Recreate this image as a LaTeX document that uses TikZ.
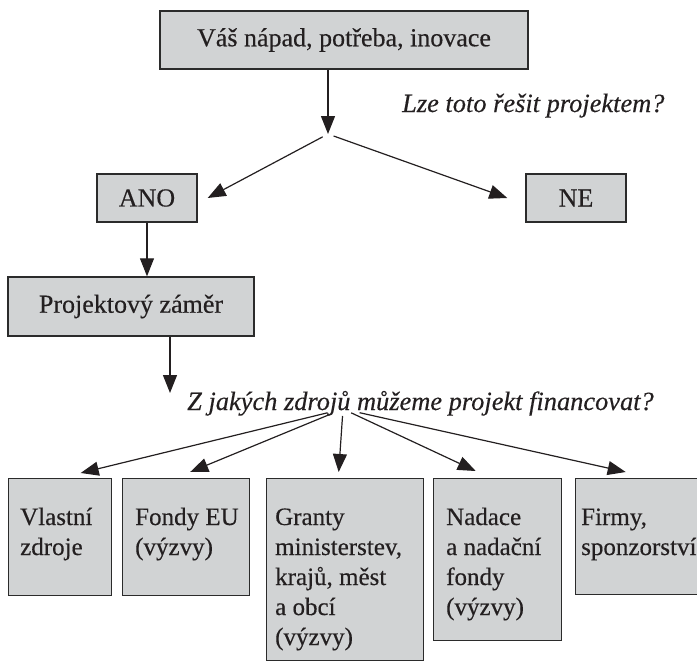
\documentclass[tikz,border=0pt]{standalone}
\usepackage{fontspec}
\setmainfont{Liberation Serif}[FakeBold=0.35]
\usetikzlibrary{arrows.meta,calc}
\definecolor{boxfill}{HTML}{D1D3D4}
\definecolor{boxline}{HTML}{2B2B2B}
\definecolor{ink}{HTML}{231F20}
\tikzset{
  box/.style={draw=boxline, line width=1.4pt, fill=boxfill, inner sep=0pt, text=ink},
  arr/.style={draw=ink, line width=1.2pt, -{Triangle[length=18pt,width=14pt]}},
  big/.style={font=\fontsize{26}{30}\selectfont},
  q/.style={font=\fontsize{26.4}{30}\selectfont\itshape, inner sep=0pt, anchor=base west, text=ink},
  txt/.style={font=\fontsize{25}{30}\selectfont, inner sep=0pt, anchor=base west, text=ink},
}
\newcommand{\boxtext}[1]{\parbox[t]{200pt}{\raggedright #1}}
\begin{document}
\begin{tikzpicture}[x=1pt,y=-1pt]
\useasboundingbox (0,0) rectangle (697,670);
\clip (0,0) rectangle (697,670);

% top part
\node[box, big, minimum width=368, minimum height=58] (top) at (344,40) {Váš nápad, potřeba, inovace};
\node[q] (q1) at (402,112) {Lze toto řešit projektem?};
\node[box, big, minimum width=100, minimum height=48] (ano) at (147,198) {ANO};
\node[box, big, minimum width=100, minimum height=48] (ne) at (576,198) {NE};
\node[box, big, minimum width=246, minimum height=59] (proj) at (131,306.5) {Projektový záměr};
\node[q] (q2) at (187,410) {Z jakých zdrojů můžeme projekt financovat?};

\coordinate (hub1) at (328,134);
\coordinate (p2) at (170,393);
\coordinate (hub2) at (343,409);

\draw[arr] ($(top.south)+(-16,0)$) -- (hub1);
\draw[arr, shorten <=6pt] (hub1) -- ($(ano.east)+(10,0)$);
\draw[arr, shorten <=6pt] (hub1) -- ($(ne.west)+(-18,0)$);
\draw[arr] (ano.south) -- (ano.south |- proj.north);
\draw[arr] (proj.south -| p2) -- (p2);

% bottom boxes
\node[box, anchor=north west, minimum width=103, minimum height=117] (v) at (8,478) {};
\node[box, anchor=north west, minimum width=127, minimum height=117] (f) at (122,478) {};
\node[box, anchor=north west, minimum width=157, minimum height=182] (g) at (266,478) {};
\node[box, anchor=north west, minimum width=128, minimum height=162] (n) at (433,478) {};
\node[box, anchor=north west, minimum width=140, minimum height=116] (fi) at (575,478) {};

\node[txt] (vt) at (20,525) {\boxtext{Vlastní\\zdroje}};
\node[txt] (ft) at (135,525) {\boxtext{Fondy EU\\(výzvy)}};
\node[txt] (gt) at (275,525) {\boxtext{Granty\\ministerstev,\\krajů, měst\\a obcí\\(výzvy)}};
\node[txt] (nt) at (446,525) {\boxtext{Nadace\\a nadační\\fondy\\(výzvy)}};
\node[txt] (fit) at (581,525) {\boxtext{Firmy,\\sponzorství}};

\draw[arr, shorten <=16pt] (hub2) -- ($(v.north)+(20.5,-5)$);
\draw[arr, shorten <=12pt] (hub2) -- ($(f.north)+(4,-6)$);
\draw[arr, shorten <=7pt] (hub2) -- ($(g.north)+(-6.5,-6)$);
\draw[arr, shorten <=9pt] (hub2) -- ($(n.north)+(-22,-7)$);
\draw[arr, shorten <=17pt] (hub2) -- ($(fi.north)+(-20,-6)$);
\end{tikzpicture}
\end{document}
